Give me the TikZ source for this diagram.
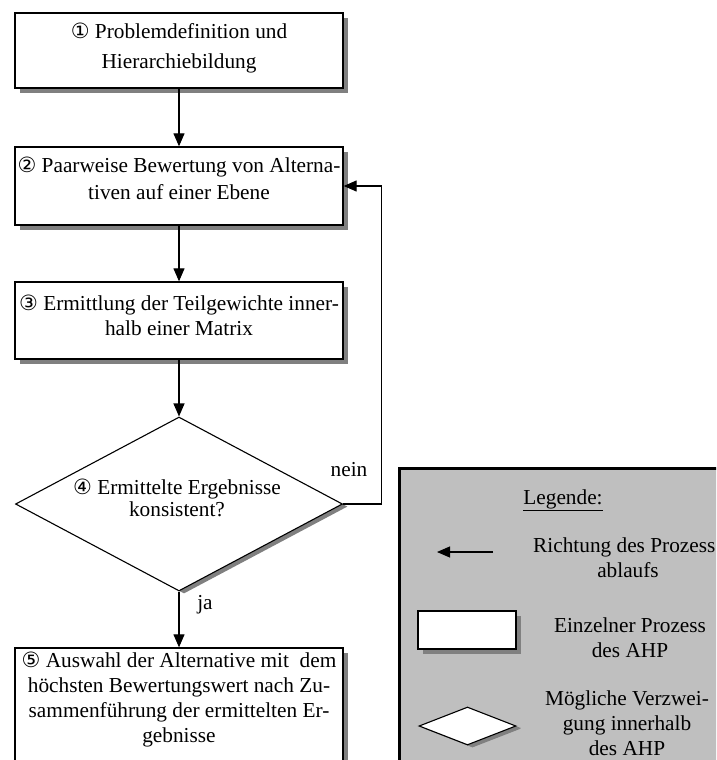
\documentclass[tikz,border=0pt]{standalone}
\usepackage{fontspec}
\setmainfont{Liberation Serif}
\newfontfamily\symf{DejaVu Sans}
\usetikzlibrary{shapes.geometric,shadows,arrows.meta}
\newcommand\cnum[1]{{\symf\fontsize{21}{21}\selectfont #1}}
\tikzset{
  shd/.style={drop shadow={shadow xshift=5pt,shadow yshift=-5pt,fill=black!50,opacity=1}},
  dshd/.style={drop shadow={shadow xshift=5pt,shadow yshift=-2.6pt,fill=black!50,opacity=1}},
  procbox/.style={draw=black,line width=1.3pt,fill=white,rectangle,inner sep=0pt,shd},
  decbox/.style={draw=black,line width=1.1pt,fill=white,diamond,inner sep=0pt,dshd},
  txt/.style={align=center,font=\fontsize{21.3}{25}\selectfont,inner sep=0pt},
  arr/.style={line width=1.1pt,-{Triangle[length=13pt,width=11pt]}},
  lbl/.style={font=\fontsize{21.3}{25}\selectfont,inner sep=0pt}
}
\begin{document}
\begin{tikzpicture}[x=1pt,y=-1pt]
\useasboundingbox (0,0) rectangle (716,760);
\begin{scope}
\clip (0,0) rectangle (716,760);
\fill[white] (0,0) rectangle (716,760);
% flowchart boxes
\node[procbox,minimum width=328pt,minimum height=75pt] (b1) at (179,50.5) {};
\node[txt,font=\fontsize{21.3}{30}\selectfont] (t1) at (179,48) {\cnum{①} Problemdefinition und\\Hierarchiebildung};
\node[procbox,minimum width=328pt,minimum height=78pt] (b2) at (179,186) {};
\node[txt,font=\fontsize{21.3}{27}\selectfont] (t2) at (179,178.5) {\cnum{②} Paarweise Bewertung von Alterna-\\tiven auf einer Ebene};
\node[procbox,minimum width=328pt,minimum height=77pt] (b3) at (179,320.5) {};
\node[txt,font=\fontsize{21.3}{25}\selectfont] (t3) at (179,315) {\cnum{③} Ermittlung der Teilgewichte inner-\\halb einer Matrix};
\node[decbox,minimum width=327pt,minimum height=174pt] (d4) at (179,504) {};
\node[txt,font=\fontsize{21.3}{22}\selectfont] (t4) at (177,497.5) {\cnum{④} Ermittelte Ergebnisse\\konsistent?};
\node[procbox,minimum width=328pt,minimum height=140pt] (b5) at (179,718) {};
\node[txt,font=\fontsize{21.3}{25}\selectfont] (t5) at (179,700) {\cnum{⑤} Auswahl der Alternative mit\ \ dem\\höchsten Bewertungswert nach Zu-\\sammenführung der ermittelten Er-\\gebnisse};
% connectors
\draw[arr] (b1.south) -- (b2.north);
\draw[arr] (b2.south) -- (b3.north);
\draw[arr] (b3.south) -- (d4.north);
\draw[arr] (d4.south) -- (b5.north);
\draw[arr] (d4.east) -- ++(38,0) |- (b2.east);
\node[lbl] (nein) at (349,470) {nein};
\node[lbl] (ja) at (205,605) {ja};
% legend
\draw[line width=3pt,fill=black!25] (399,468) rectangle (740,790);
\node[lbl] (lg) at (563,500) {\underline{Legende:}};
\coordinate (la) at (493,552);
\coordinate (lb) at (437,552);
\draw[arr] (la) -- (lb);
\node[lbl,anchor=west] (lt1) at (533,547) {Richtung des Prozess};
\node[lbl] (lt1b) at (628,570) {ablaufs};
\node[procbox,minimum width=98pt,minimum height=38pt,line width=1.1pt] (lr) at (467,630) {};
\node[txt,font=\fontsize{21.3}{25}\selectfont] (lt2) at (630,637.5) {Einzelner Prozess\\des AHP};
\node[decbox,minimum width=97pt,minimum height=38pt,drop shadow={shadow xshift=5pt,shadow yshift=-2pt,fill=black!50,opacity=1}] (ld) at (467.5,726) {};
\node[txt,font=\fontsize{21.3}{25}\selectfont] (lt3) at (627,723) {Mögliche Verzwei-\\gung innerhalb\\des AHP};
\end{scope}
\end{tikzpicture}
\end{document}
